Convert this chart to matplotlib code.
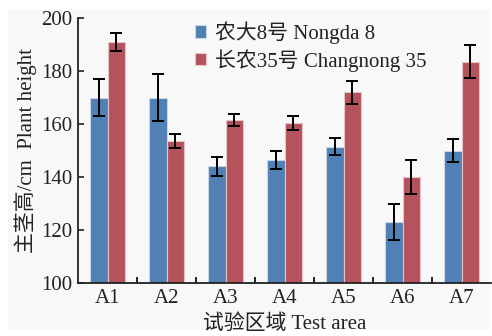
import matplotlib
matplotlib.use("Agg")
import matplotlib.pyplot as plt
import numpy as np
from matplotlib.patches import Rectangle

plt.rcParams['font.family'] = ['Liberation Serif', 'Noto Sans CJK SC']

categories = ["A1", "A2", "A3", "A4", "A5", "A6", "A7"]
nongda8 = [170, 170, 144, 146.5, 151.5, 123, 150]
nongda8_err = [7, 8.7, 3.7, 3.5, 3.2, 6.8, 4.3]
changnong35 = [191, 153.5, 161.5, 160.5, 172, 140, 183.5]
changnong35_err = [3.5, 2.7, 2.1, 2.6, 4.3, 6.4, 6.3]
series_names = ["农大8号 Nongda 8", "长农35号 Changnong 35"]
yticks = [100, 120, 140, 160, 180, 200]

fig = plt.figure(figsize=(4.92, 3.36), dpi=100, facecolor='white')
fig.patches.append(Rectangle((8/492, 6/336), (490-8)/492, (328-8)/336,
                             transform=fig.transFigure, facecolor='#f8f8f8',
                             edgecolor='none', zorder=-10))
ax = fig.add_axes([78/492, 1-283/336, (491-78)/492, (283-18)/336])
ax.set_facecolor('none')

x = np.arange(len(categories))
w = 0.29
blue = '#5080b4'
red = '#b5535c'
ax.bar(x - w/2, nongda8, w, color=blue, edgecolor='#c9d7e6', linewidth=0.8,
       yerr=nongda8_err, error_kw=dict(ecolor='black', elinewidth=1.4, capsize=4, capthick=1.4),
       label=series_names[0])
ax.bar(x + w/2, changnong35, w, color=red, edgecolor='#e6c4c8', linewidth=0.8,
       yerr=changnong35_err, error_kw=dict(ecolor='black', elinewidth=1.4, capsize=4, capthick=1.4),
       label=series_names[1])

fs = 15
ax.set_ylim(100, 200)
ax.set_xlim(-0.5, 6.5)
ax.set_yticks(yticks)
ax.set_xticks(x)
ax.set_xticklabels(categories)
ax.set_xticks(np.arange(0.5, 6.5, 1), minor=True)
ax.tick_params(axis='x', which='major', length=0, labelsize=fs, pad=4, colors='#222222')
ax.tick_params(axis='x', which='minor', direction='in', length=4, width=1.2)
ax.tick_params(axis='y', direction='in', length=4, width=1.2, labelsize=fs, pad=4, colors='#222222')
for s in ['top', 'right']:
    ax.spines[s].set_visible(False)
for s in ['left', 'bottom']:
    ax.spines[s].set_linewidth(1.3)
    ax.spines[s].set_color('#222222')

ax.set_ylabel("主茎高/cm  Plant height", fontsize=fs, color='#222222', labelpad=3)
ax.set_xlabel("试验区域 Test area", fontsize=fs, color='#222222', labelpad=5)

leg = ax.legend(loc='upper left', bbox_to_anchor=(0.262, 1.02), frameon=False,
                fontsize=fs, handlelength=0.55, handleheight=0.55, handletextpad=0.45,
                labelspacing=0.25, labelcolor='#222222', borderaxespad=0)

fig.savefig("out.png", dpi=100, facecolor=fig.get_facecolor())
